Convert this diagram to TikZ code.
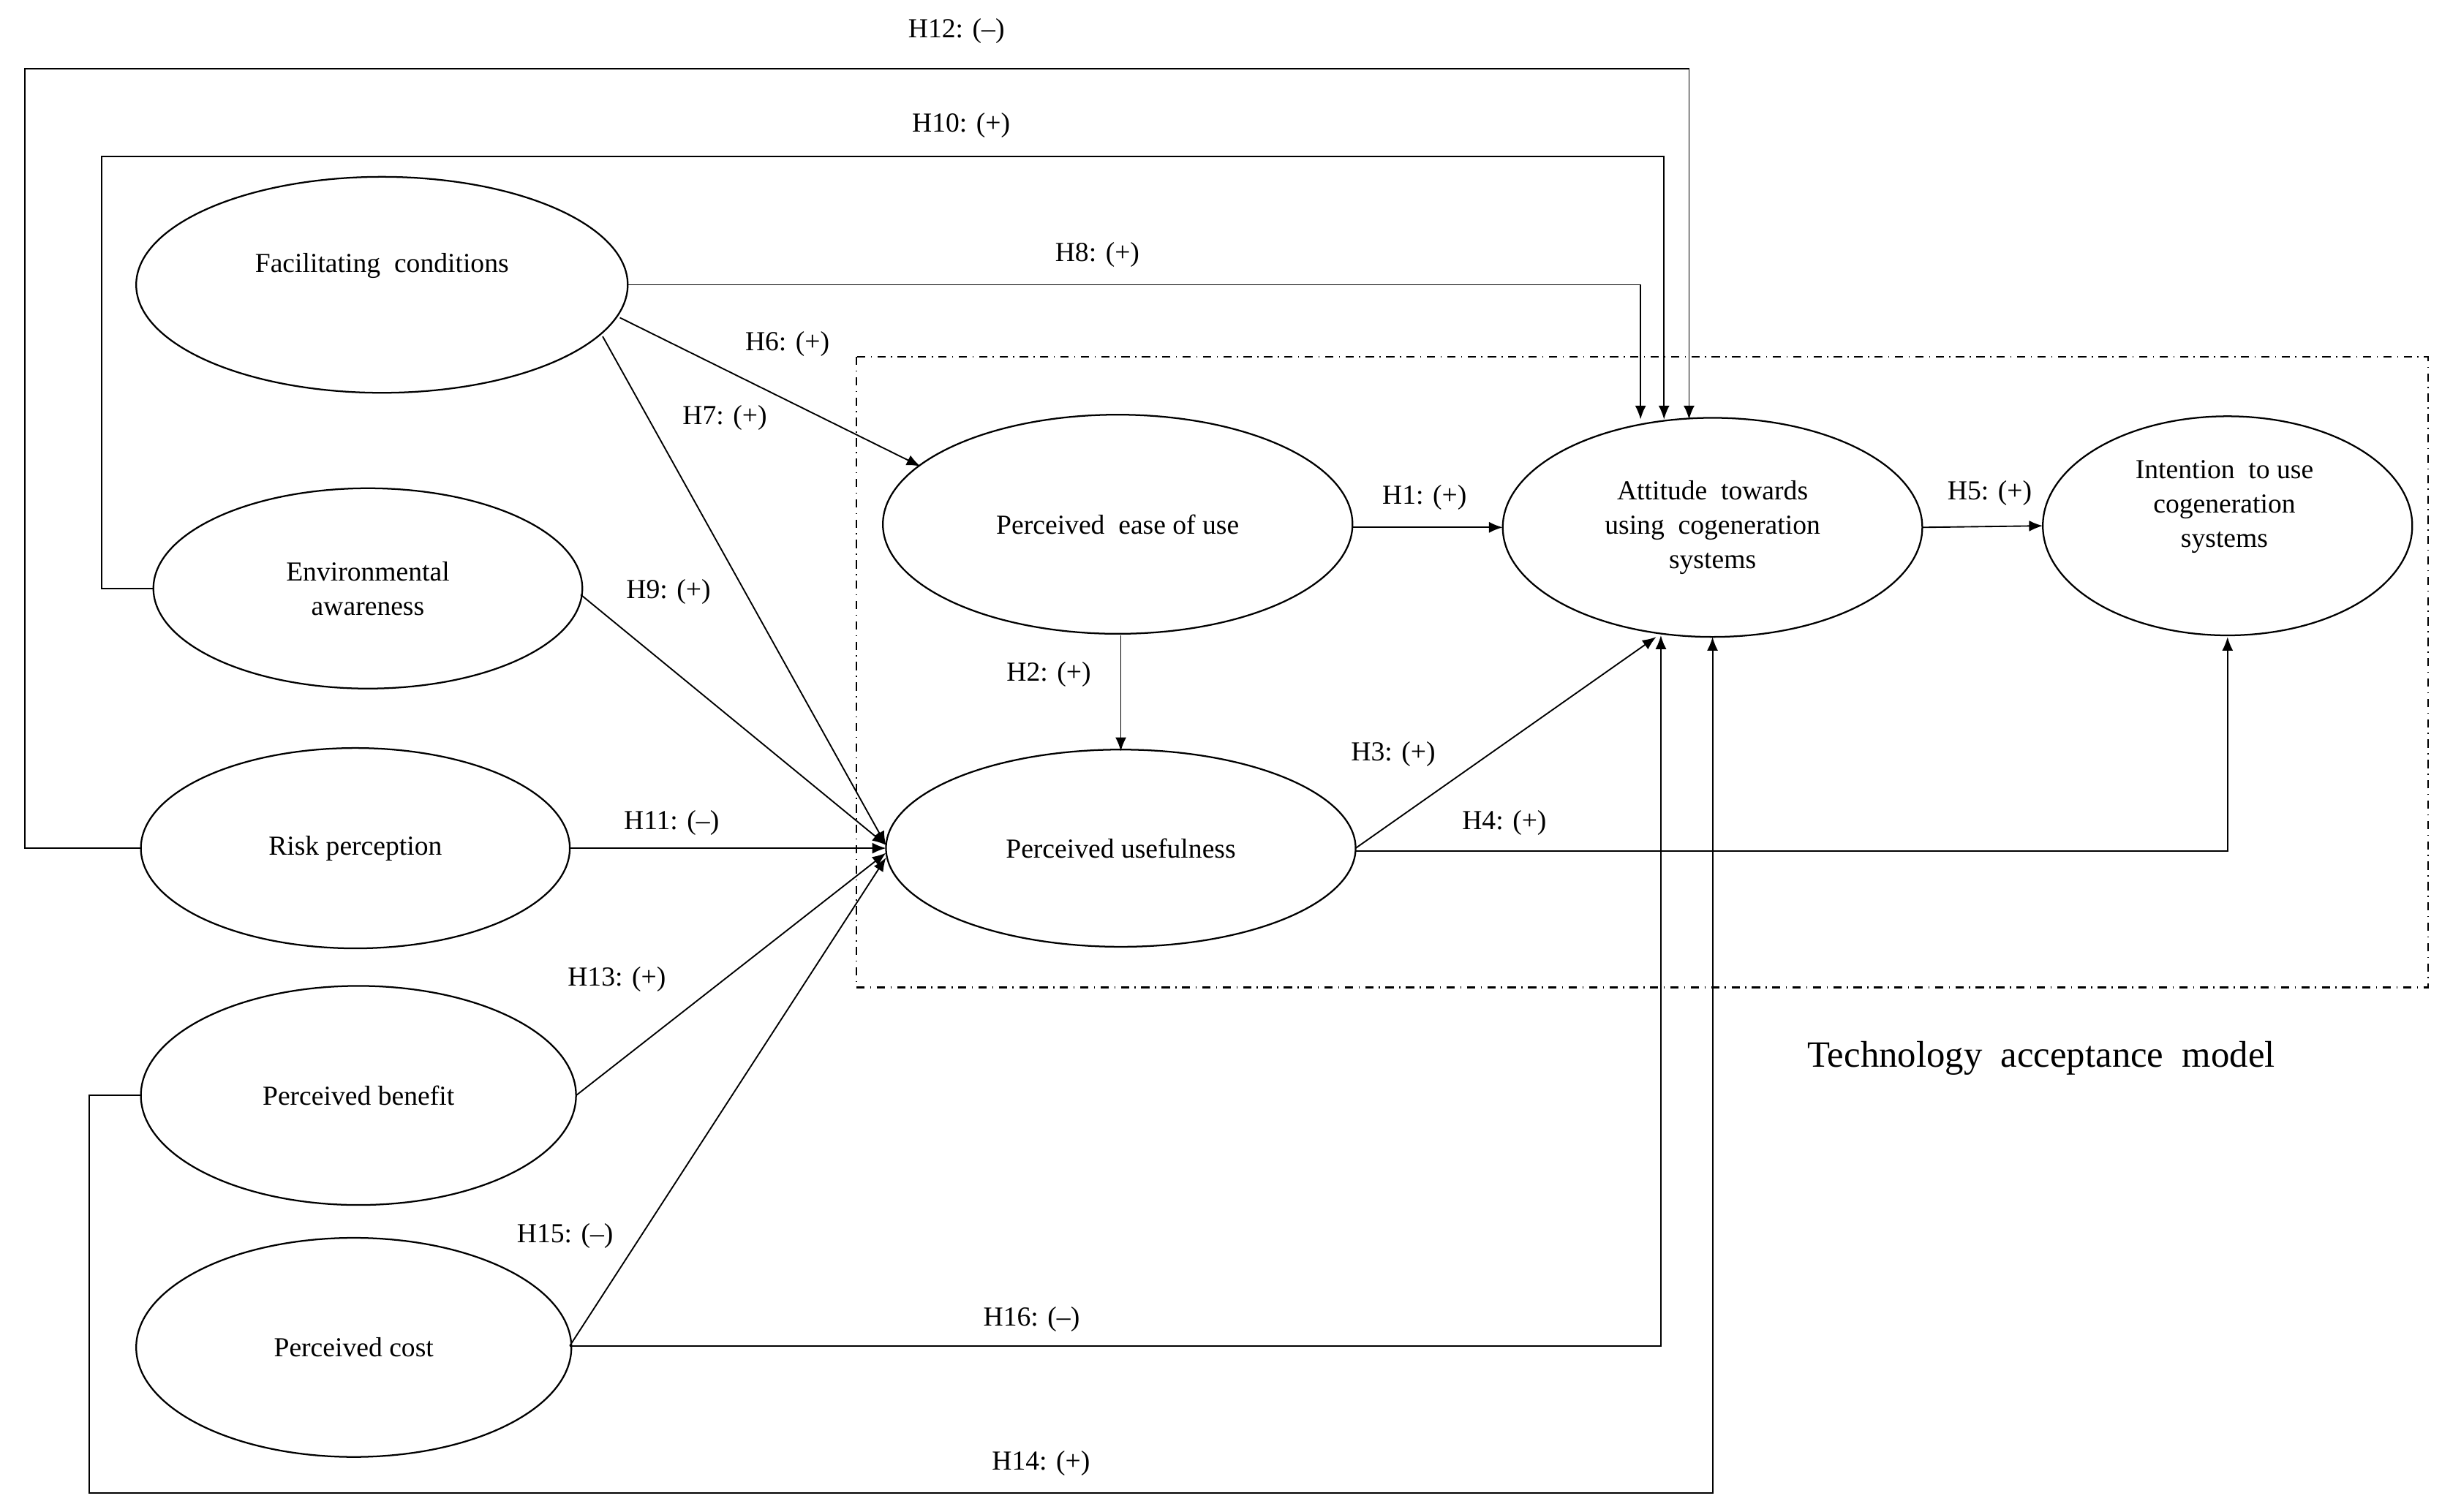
\documentclass[tikz,border=0pt]{standalone}
\usepackage{fontspec}
\setmainfont{Liberation Serif}
\usetikzlibrary{arrows.meta}
\begin{document}
\begin{tikzpicture}[x=0.02cm,y=-0.02cm,
  t/.style={font=\fontsize{10}{12.5}\selectfont,align=center},
  lb/.style={font=\fontsize{10}{12.5}\selectfont},
  ar/.style={draw,line width=0.5pt,-{Latex[length=5pt,width=4pt]}}]
\useasboundingbox (0,0) rectangle (1560,966);
\draw[line width=0.6pt] (244,182) ellipse [x radius=157,y radius=69];
\draw[line width=0.6pt] (235,376) ellipse [x radius=137,y radius=64];
\draw[line width=0.6pt] (227,542) ellipse [x radius=137,y radius=64];
\draw[line width=0.6pt] (229,700) ellipse [x radius=139,y radius=70];
\draw[line width=0.6pt] (226,861) ellipse [x radius=139,y radius=70];
\draw[line width=0.6pt] (714,335) ellipse [x radius=150,y radius=70];
\draw[line width=0.6pt] (716,542) ellipse [x radius=150,y radius=63];
\draw[line width=0.6pt] (1094,337) ellipse [x radius=134,y radius=70];
\draw[line width=0.6pt] (1423,336) ellipse [x radius=118,y radius=70];
\node[t] (fc) at (244,170) {Facilitating\ \ conditions};
\node[t] (ea) at (235,376) {Environmental\\awareness};
\node[t] (rp) at (227,542) {Risk perception};
\node[t] (pb) at (229,700) {Perceived benefit};
\node[t] (pc) at (226,861) {Perceived cost};
\node[t] (pe) at (714,335) {Perceived\ \ ease of use};
\node[t] (pu) at (716,542) {Perceived usefulness};
\node[t] (at) at (1094,337) {Attitude\ \ towards\\using\ \ cogeneration\\systems};
\node[t] (in) at (1421,324) {Intention\ \ to use\\cogeneration\\systems};
\draw[dash dot,line width=0.6pt] (547,228) rectangle (1551,631);
\node[font=\fontsize{13.5}{16}\selectfont] (tam) at (1304,676) {Technology\ \ acceptance\ \ model};
\coordinate (fcR) at (401,182); \coordinate (eaL) at (98,376);
\coordinate (rpL) at (90,542); \coordinate (rpR) at (364,542);
\coordinate (pbL) at (90,700); \coordinate (pbR) at (368,700);
\coordinate (pcR) at (364,860);
\coordinate (puL) at (566,542);
\draw[ar] (rpL) -- (16,542) -- (16,44) -- (1079,44) -- (1079,268);
\draw[ar] (eaL) -- (65,376) -- (65,100) -- (1063,100) -- (1063,268);
\draw[ar] (fcR) -- (1048,182) -- (1048,268);
\draw[ar] (396,203) -- (588,298);
\draw[ar] (385,215) -- (566,540);
\draw[ar] (371,380) -- (566,540);
\draw[ar] (rpR) -- (puL);
\draw[ar] (pbR) -- (566,545);
\draw[ar] (pcR) -- (566,548);
\draw[ar] (pcR) -- (1061,860) -- (1061,406);
\draw[ar] (pbL) -- (57,700) -- (57,954) -- (1094,954) -- (1094,407);
\draw[ar] (864,337) -- (960,337);
\draw[ar] (716,406) -- (716,480);
\draw[ar] (866,542) -- (1058,407);
\draw[ar] (866,544) -- (1423,544) -- (1423,407);
\draw[ar] (1228,337) -- (1305,336);
\node[lb] at (611,20) {H12: (--)};
\node[lb] at (614,80) {H10: (+)};
\node[lb] at (701,163) {H8: (+)};
\node[lb] at (503,220) {H6: (+)};
\node[lb] at (463,267) {H7: (+)};
\node[lb] at (427,378) {H9: (+)};
\node[lb] at (429,526) {H11: (--)};
\node[lb] at (394,626) {H13: (+)};
\node[lb] at (361,790) {H15: (--)};
\node[lb] at (659,843) {H16: (--)};
\node[lb] at (665,935) {H14: (+)};
\node[lb] at (910,318) {H1: (+)};
\node[lb] at (670,431) {H2: (+)};
\node[lb] at (890,482) {H3: (+)};
\node[lb] at (961,526) {H4: (+)};
\node[lb] at (1271,315) {H5: (+)};
\end{tikzpicture}
\end{document}
